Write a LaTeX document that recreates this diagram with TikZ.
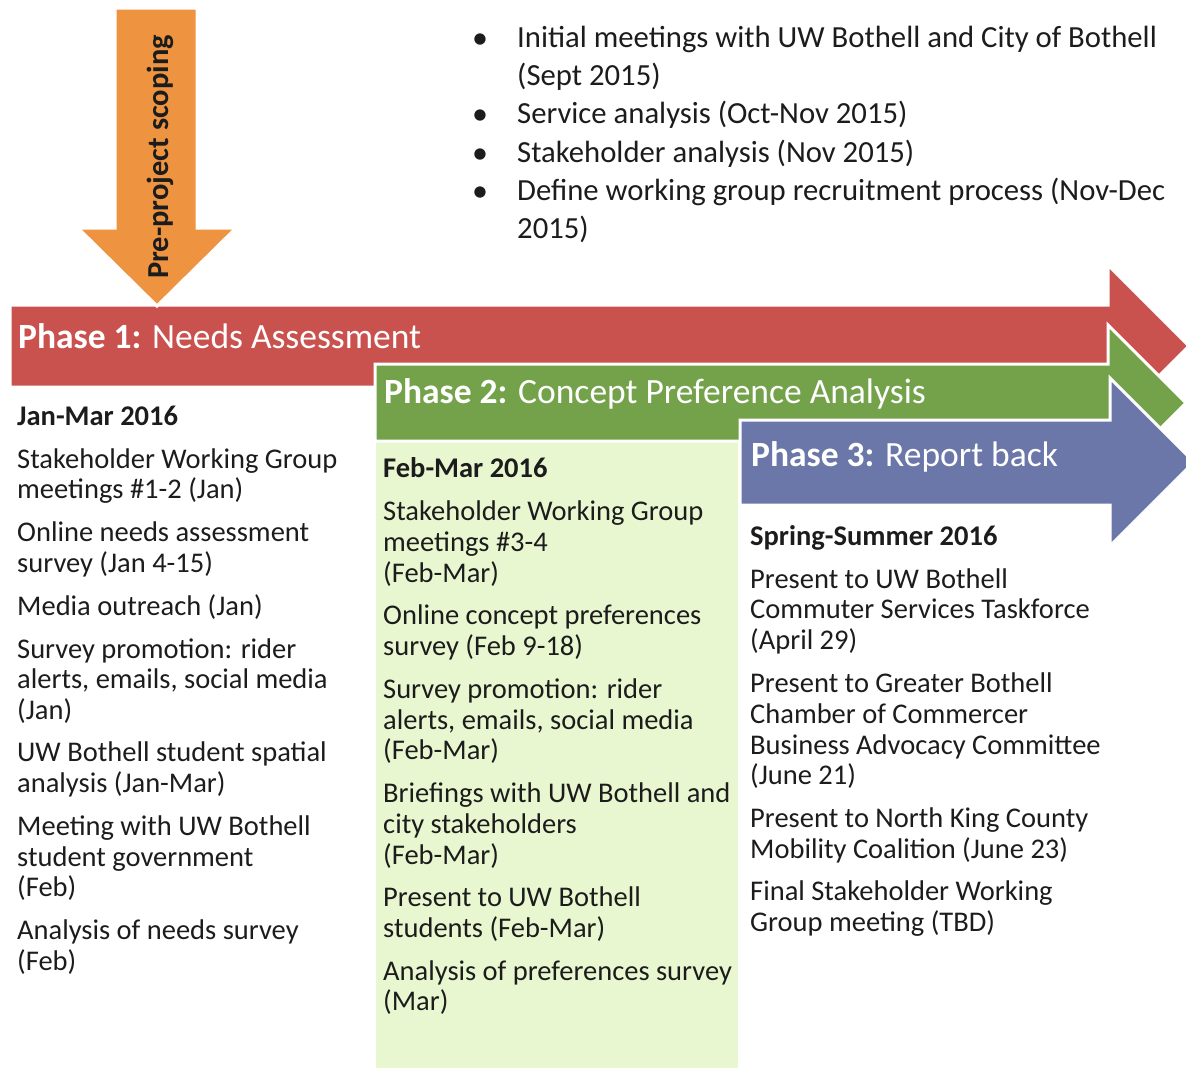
\documentclass[tikz,border=0pt]{standalone}
\usepackage{fontspec}
\setmainfont{Carlito}
\definecolor{redA}{HTML}{C9524E}
\definecolor{greenA}{HTML}{73A24A}
\definecolor{blueA}{HTML}{6B77A8}
\definecolor{orangeA}{HTML}{EE9340}
\definecolor{lightG}{HTML}{E8F7D0}
\definecolor{txtC}{HTML}{1C1C1C}
\begin{document}
\begin{tikzpicture}[x=1pt,y=-1pt,
  arrowshape/.style={draw=white,line width=3pt,line join=miter},
  txt/.style={anchor=base west,inner sep=0pt,text=txtC,font=\fontsize{28.5}{31}\selectfont},
  top/.style={anchor=base west,inner sep=0pt,text=txtC,font=\fontsize{30.7}{38}\selectfont},
  hdr/.style={txt,font=\fontsize{28.5}{31}\selectfont\bfseries},
  ttl/.style={anchor=base west,inner sep=0pt,text=white,font=\fontsize{35.5}{40}\selectfont},
  bul/.style={anchor=base west,inner sep=0pt,text=txtC,font=\fontsize{32}{38}\selectfont}]
\useasboundingbox (0,0) rectangle (1186,1068);
\clip (0,0) rectangle (1186,1068);
% light green column
\fill[lightG] (376,440) rectangle (738,1068);
% red arrow
\filldraw[arrowshape,fill=redA] (10,305) -- (1108,305) -- (1108,265) -- (1189,346) -- (1108,427) -- (1108,387) -- (10,387) -- cycle;
% green arrow
\filldraw[arrowshape,fill=greenA] (375,364) -- (1108,364) -- (1108,325) -- (1186,403) -- (1108,481) -- (1108,441) -- (375,441) -- cycle;
% blue arrow
\filldraw[arrowshape,fill=blueA] (740,420) -- (1110,420) -- (1110,378) -- (1194,462) -- (1110,546) -- (1110,505) -- (740,505) -- cycle;
% orange arrow
\filldraw[arrowshape,fill=orangeA] (115,8) -- (197,8) -- (197,228) -- (236,228) -- (157,306) -- (78,228) -- (115,228) -- cycle;
\node[rotate=90,inner sep=0pt,text=txtC,font=\fontsize{30.5}{34}\selectfont\bfseries] (pre) at (160,157) {Pre-project scoping};
% top bullets
\node[bul] (b1) at (472,48) {•};
\node[top] (t1a) at (517,47) {Initial meetings with UW Bothell and City of Bothell};
\node[top] (t1b) at (517,85) {(Sept 2015)};
\node[bul] (b2) at (472,124) {•};
\node[top] (t2) at (517,123) {Service analysis (Oct-Nov 2015)};
\node[bul] (b3) at (472,163) {•};
\node[top] (t3) at (517,162) {Stakeholder analysis (Nov 2015)};
\node[bul] (b4) at (472,201) {•};
\node[top] (t4a) at (517,200) {Define working group recruitment process (Nov-Dec};
\node[top] (t4b) at (517,238) {2015)};
% phase titles
\node[ttl] (p1) at (18,348) {\textbf{Phase 1:} Needs Assessment};
\node[ttl] (p2) at (384,403) {\textbf{Phase 2:} Concept Preference Analysis};
\node[ttl] (p3) at (751,466) {\textbf{Phase 3:} Report back};
% column 1
\node[hdr] (c1h) at (17,425) {Jan-Mar 2016};
\node[txt] (c1a1) at (17,468) {Stakeholder Working Group};
\node[txt] (c1a2) at (17,498) {meetings \#1-2 (Jan)};
\node[txt] (c1b1) at (17,541) {Online needs assessment};
\node[txt] (c1b2) at (17,572) {survey (Jan 4-15)};
\node[txt] (c1c1) at (17,615) {Media outreach (Jan)};
\node[txt] (c1d1) at (17,658) {Survey promotion: rider};
\node[txt] (c1d2) at (17,688) {alerts, emails, social media};
\node[txt] (c1d3) at (17,719) {(Jan)};
\node[txt] (c1e1) at (17,761) {UW Bothell student spatial};
\node[txt] (c1e2) at (17,792) {analysis (Jan-Mar)};
\node[txt] (c1f1) at (17,835) {Meeting with UW Bothell};
\node[txt] (c1f2) at (17,866) {student government};
\node[txt] (c1f3) at (17,896) {(Feb)};
\node[txt] (c1g1) at (17,939) {Analysis of needs survey};
\node[txt] (c1g2) at (17,970) {(Feb)};
% column 2
\node[hdr] (c2h) at (383,477) {Feb-Mar 2016};
\node[txt] (c2a1) at (383,520) {Stakeholder Working Group};
\node[txt] (c2a2) at (383,551) {meetings \#3-4};
\node[txt] (c2a3) at (383,582) {(Feb-Mar)};
\node[txt] (c2b1) at (383,624) {Online concept preferences};
\node[txt] (c2b2) at (383,655) {survey (Feb 9-18)};
\node[txt] (c2c1) at (383,698) {Survey promotion: rider};
\node[txt] (c2c2) at (383,729) {alerts, emails, social media};
\node[txt] (c2c3) at (383,759) {(Feb-Mar)};
\node[txt] (c2d1) at (383,802) {Briefings with UW Bothell and};
\node[txt] (c2d2) at (383,833) {city stakeholders};
\node[txt] (c2d3) at (383,864) {(Feb-Mar)};
\node[txt] (c2e1) at (383,906) {Present to UW Bothell};
\node[txt] (c2e2) at (383,937) {students (Feb-Mar)};
\node[txt] (c2f1) at (383,980) {Analysis of preferences survey};
\node[txt] (c2f2) at (383,1010) {(Mar)};
% column 3
\node[hdr] (c3h) at (750,545) {Spring-Summer 2016};
\node[txt] (c3a1) at (750,588) {Present to UW Bothell};
\node[txt] (c3a2) at (750,618) {Commuter Services Taskforce};
\node[txt] (c3a3) at (750,649) {(April 29)};
\node[txt] (c3b1) at (750,692) {Present to Greater Bothell};
\node[txt] (c3b2) at (750,723) {Chamber of Commercer};
\node[txt] (c3b3) at (750,754) {Business Advocacy Committee};
\node[txt] (c3b4) at (750,784) {(June 21)};
\node[txt] (c3c1) at (750,827) {Present to North King County};
\node[txt] (c3c2) at (750,858) {Mobility Coalition (June 23)};
\node[txt] (c3d1) at (750,900) {Final Stakeholder Working};
\node[txt] (c3d2) at (750,931) {Group meeting (TBD)};
\end{tikzpicture}
\end{document}
